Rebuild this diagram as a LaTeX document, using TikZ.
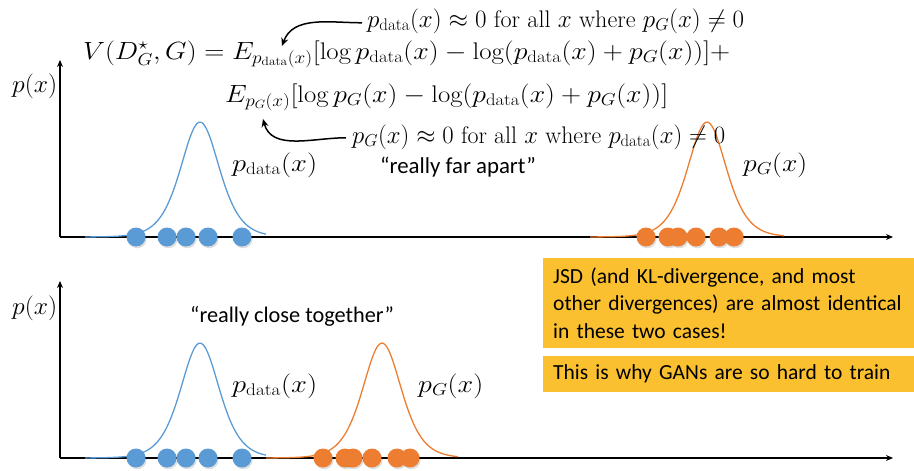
\documentclass[tikz,border=0pt]{standalone}
\usepackage{amsmath}
\usepackage{graphicx}
\usepackage{fontspec}
\newfontfamily\carlito{Carlito}
\usetikzlibrary{arrows.meta}
\definecolor{bluec}{HTML}{5B9BD5}
\definecolor{orangec}{HTML}{ED7D31}
\definecolor{goldc}{HTML}{FBC02F}
\newcommand\fitw[2]{\resizebox{#1}{\height}{#2}}
\tikzset{
  axis/.style={line width=1.4pt, -{Stealth[length=7pt,width=6pt]}},
  curveb/.style={bluec, line width=1.3pt, smooth},
  curveo/.style={orangec, line width=1.3pt, smooth},
  dotb/.style={circle, fill=bluec, minimum size=19pt, inner sep=0pt},
  doto/.style={circle, fill=orangec, minimum size=19pt, inner sep=0pt},
  shad/.style={circle, fill=black, opacity=0.13, minimum size=19pt, inner sep=0pt},
  mathtxt/.style={inner sep=0pt, font=\fontsize{24}{28}\selectfont},
  quote/.style={inner sep=0pt, font=\carlito\fontsize{22.8}{26}\selectfont},
  ybox/.style={fill=goldc, anchor=north west, inner xsep=10pt, inner ysep=0pt, align=left,
    font=\carlito\fontsize{21.5}{27.5}\selectfont},
  ann/.style={line width=1.5pt, -{Stealth[length=8pt,width=7pt]}}
}
\begin{document}
\begin{tikzpicture}[x=1pt,y=-1pt]
\useasboundingbox (0,0) rectangle (914,471);
% ---------- top axes ----------
\coordinate (o1) at (60,237);
\coordinate (y1) at (60,60);
\coordinate (x1) at (893,237);
\draw[axis] (o1) -- (y1);
\draw[axis] (o1) -- (x1);
% ---------- bottom axes ----------
\coordinate (o2) at (60,458);
\coordinate (y2) at (60,281);
\coordinate (x2) at (893,458);
\draw[axis] (o2) -- (y2);
\draw[axis] (o2) -- (x2);
% ---------- curves ----------
\draw[curveb] plot[domain=85:266, samples=90] ({\x},{237-115/(cosh((\x-200)/26)^2)});
\draw[curveo] plot[domain=590:784, samples=90] ({\x},{237-115/(cosh((\x-707)/26)^2)});
\draw[curveb] plot[domain=85:266, samples=90] ({\x},{458-115/(cosh((\x-200)/26)^2)});
\draw[curveo] plot[domain=266:458, samples=90] ({\x},{458-115/(cosh((\x-382)/26)^2)});
% ---------- dots ----------
\foreach \i/\px in {1/136,2/167,3/186,4/208,5/242}{
  \node[shad] at (\px+1.2,237+1.8) {};
  \node[dotb] (tb\i) at (\px,237) {};
  \node[shad] at (\px+1.2,458+1.8) {};
  \node[dotb] (bb\i) at (\px,458) {};
}
\foreach \i/\px in {1/646,2/668,3/678,4/696,5/719,6/734}{
  \node[shad] at (\px+1.2,237+1.8) {};
  \node[doto] (to\i) at (\px,237) {};
}
\foreach \i/\px in {1/323,2/345,3/353,4/372,5/397,6/410}{
  \node[shad] at (\px+1.2,458+1.8) {};
  \node[doto] (bo\i) at (\px,458) {};
}
% ---------- labels ----------
\node[mathtxt, anchor=base west] (py1) at (12,92) {\fitw{45pt}{$p(x)$}};
\node[mathtxt, anchor=base west] (py2) at (12,314) {\fitw{45pt}{$p(x)$}};
\node[mathtxt, anchor=base west] (ld1) at (232,171) {\fitw{85pt}{$p_{\mathrm{data}}(x)$}};
\node[mathtxt, anchor=base west] (lg1) at (743,171) {\fitw{64pt}{$p_G(x)$}};
\node[mathtxt, anchor=base west] (ld2) at (232,392) {\fitw{85pt}{$p_{\mathrm{data}}(x)$}};
\node[mathtxt, anchor=base west] (lg2) at (418,392) {\fitw{65pt}{$p_G(x)$}};
% ---------- equation ----------
\node[mathtxt, anchor=base west] (eq1) at (83,59)
  {\fitw{647pt}{$V(D^{\star}_G,G)=E_{p_{\mathrm{data}}(x)}[\log p_{\mathrm{data}}(x)-\log(p_{\mathrm{data}}(x)+p_G(x))]+$}};
\node[mathtxt, anchor=base west] (eq2) at (225,102)
  {\fitw{443pt}{$E_{p_G(x)}[\log p_G(x)-\log(p_{\mathrm{data}}(x)+p_G(x))]$}};
\node[mathtxt, anchor=base west] (an1) at (367,27)
  {\fitw{377pt}{$p_{\mathrm{data}}(x)\approx 0$ for all $x$ where $p_G(x)\neq 0$}};
\node[mathtxt, anchor=base west] (an2) at (352,143)
  {\fitw{373pt}{$p_G(x)\approx 0$ for all $x$ where $p_{\mathrm{data}}(x)\neq 0$}};
\coordinate (t1) at (282,46);
\coordinate (t2) at (263,119);
\draw[ann] ([xshift=-5pt,yshift=-2pt]an1.west) to[out=180,in=70] (t1);
\draw[ann] ([xshift=-6pt,yshift=-1pt]an2.west) to[out=180,in=-75] (t2);
% ---------- quotes ----------
\node[quote, anchor=base west] (far) at (380,173) {“really far apart”};
\node[quote, anchor=base west, font=\carlito\fontsize{22.3}{26}\selectfont] (close) at (190,322) {“really close together”};
% ---------- boxes ----------
\node[ybox, minimum width=371pt, minimum height=90pt, text width=360pt] (box1) at (543,258)
  {JSD (and KL-divergence, and most\\other divergences) are almost identical\\in these two cases!};
\node[ybox, minimum width=371pt, minimum height=36pt, text width=360pt] (box2) at (543,356)
  {This is why GANs are so hard to train};
\end{tikzpicture}
\end{document}
